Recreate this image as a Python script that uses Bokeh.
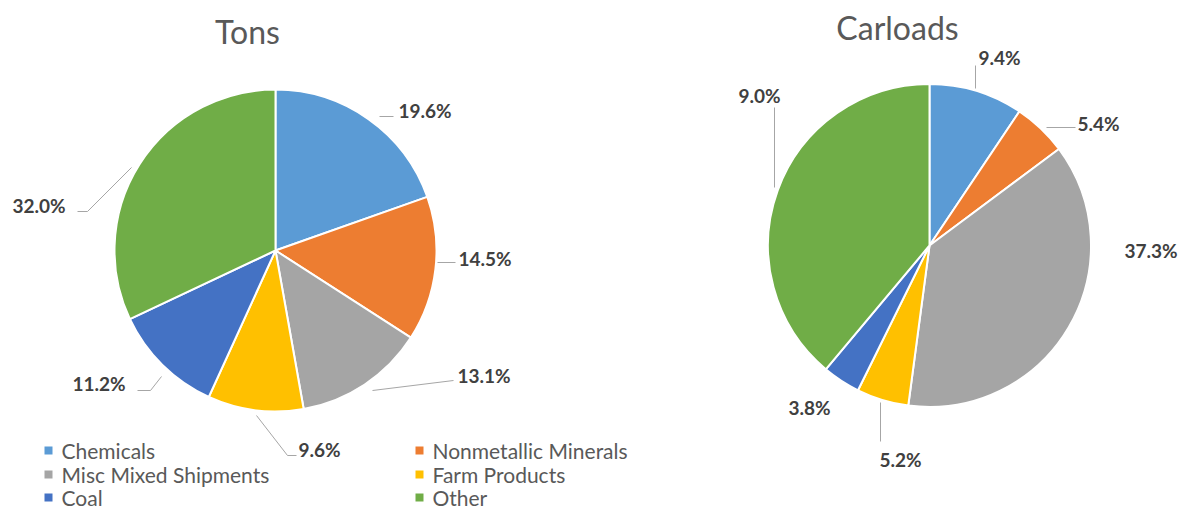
import math
from bokeh.plotting import figure
from bokeh.models import Range1d, ColumnDataSource
from bokeh.core.properties import value
from bokeh.embed import file_html
from bokeh.resources import INLINE

# ---------------- data ----------------
categories = ["Chemicals", "Nonmetallic Minerals", "Misc Mixed Shipments",
              "Farm Products", "Coal", "Other"]
colors = ["#5B9BD5", "#ED7D31", "#A5A5A5", "#FFC000", "#4472C4", "#70AD47"]
tons_values = [19.6, 14.5, 13.1, 9.6, 11.2, 32.0]
tons_labels = ["19.6%", "14.5%", "13.1%", "9.6%", "11.2%", "32.0%"]
carload_values = [9.4, 5.4, 37.3, 5.2, 3.8, 38.9]
carload_labels = ["9.4%", "5.4%", "37.3%", "5.2%", "3.8%", "9.0%"]
titles = ["Tons", "Carloads"]

# ---------------- layout (picture pixel coordinates) ----------------
PW, PH = 1181, 511
def Y(py):
    return PH - py

pie_layout = [
    dict(cx=275, cy=250, r=161, title_x=247, title_y=31,
         label_pos=[(398, 110), (458, 258), (457, 375), (298, 449), (72, 383), (12, 205)],
         leaders=[[(379, 116), (393, 116)],
                  [(437, 262), (455, 262)],
                  [(372, 390), (453, 380)],
                  [(256, 415), (287, 455), (296, 455)],
                  [(137, 390), (150, 390), (161, 376)],
                  [(77, 211), (87, 211), (131, 167)]]),
    dict(cx=929, cy=245, r=161.5, title_x=897, title_y=27,
         label_pos=[(978, 57), (1077, 123), (1124, 250), (879, 459), (788, 407), (738, 95)],
         leaders=[[(975, 65), (975, 88)],
                  [(1046, 127), (1075, 127)],
                  None,
                  [(880, 402), (880, 441)],
                  None,
                  [(774, 107), (774, 187)]]),
]

p = figure(width=PW, height=PH, output_backend="svg", toolbar_location=None,
           x_range=Range1d(0, PW), y_range=Range1d(0, PH), min_border=0)
p.axis.visible = False
p.grid.visible = False
p.outline_line_color = None
p.background_fill_color = "white"
p.border_fill_color = "white"

FONT = value("Lato")

for values, labels, title, lay in [(tons_values, tons_labels, titles[0], pie_layout[0]),
                                   (carload_values, carload_labels, titles[1], pie_layout[1])]:
    total = sum(values)
    starts, ends = [], []
    cum = 0.0
    for v in values:
        a0 = math.pi / 2 - 2 * math.pi * cum / total
        cum += v
        a1 = math.pi / 2 - 2 * math.pi * cum / total
        starts.append(a1)
        ends.append(a0)
    src = ColumnDataSource(dict(x=[lay["cx"]] * len(values), y=[Y(lay["cy"])] * len(values),
                                start=starts, end=ends, color=colors, cat=categories))
    p.wedge(x="x", y="y", radius=lay["r"], start_angle="start", end_angle="end",
            fill_color="color", line_color="white", line_width=2, source=src)

    # leader lines
    for ld in lay["leaders"]:
        if ld is None:
            continue
        p.line([q[0] for q in ld], [Y(q[1]) for q in ld], line_color="#A6A6A6", line_width=1)

    # data labels
    lx = [q[0] for q in lay["label_pos"]]
    ly = [Y(q[1]) for q in lay["label_pos"]]
    p.text(x=lx, y=ly, text=labels, text_font=FONT, text_font_style="bold",
           text_font_size="19px", text_color="#404040", text_align="left",
           text_baseline="middle")

    # title
    p.text(x=[lay["title_x"]], y=[Y(lay["title_y"])], text=[title], text_font=FONT,
           text_font_size="32px", text_color="#595959", text_align="center",
           text_baseline="middle")

# legend (2 columns x 3 rows)
col_marker_x = [48, 419]
col_text_x = [61, 432]
row_y = [450, 474, 497]
mx, my, tx, ty = [], [], [], []
for i, cat in enumerate(categories):
    c, r = i % 2, i // 2
    mx.append(col_marker_x[c]); my.append(Y(row_y[r]))
    tx.append(col_text_x[c]); ty.append(Y(row_y[r]))
p.scatter(x=mx, y=my, marker="square", size=8, fill_color=colors, line_color=None)
p.text(x=tx, y=ty, text=categories, text_font=FONT, text_font_size="21px",
       text_color="#595959", text_align="left", text_baseline="middle")

open("out.html", "w").write(file_html(p, INLINE))
